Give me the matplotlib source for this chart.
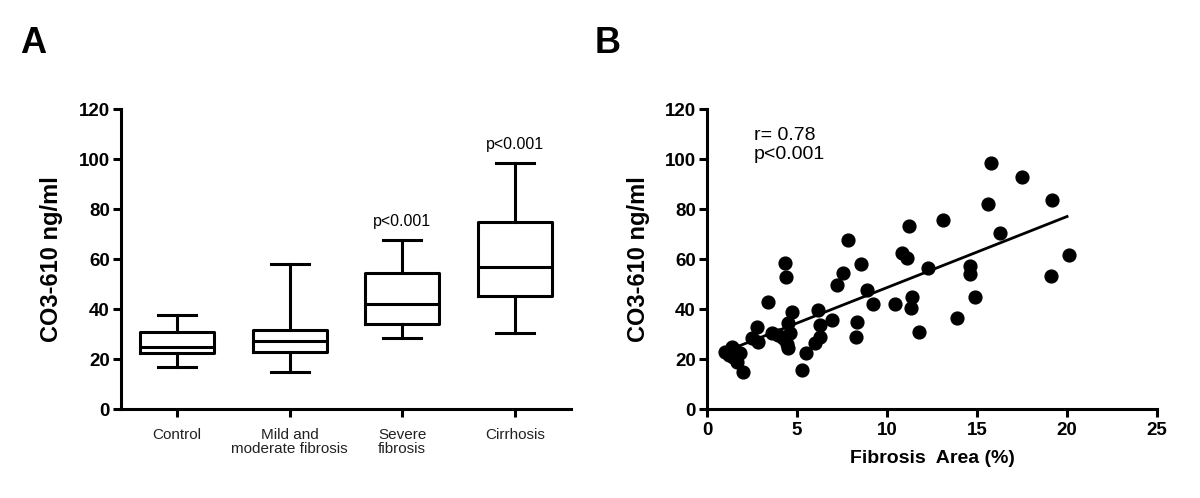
import numpy as np
import matplotlib.pyplot as plt

plt.rcParams['font.family'] = 'Liberation Sans'
plt.rcParams['axes.linewidth'] = 2.2
plt.rcParams['xtick.major.width'] = 2.2
plt.rcParams['ytick.major.width'] = 2.2
plt.rcParams['xtick.major.size'] = 6
plt.rcParams['ytick.major.size'] = 6

# panel A: box plot summary values
groups = ['Control', 'Mild and\nmoderate fibrosis', 'Severe\nfibrosis', 'Cirrhosis']
whislo = [16.7, 15.0, 28.5, 30.4]
q1 = [22.5, 23.0, 34.0, 45.4]
med = [25.0, 27.4, 41.9, 56.9]
q3 = [31.0, 31.6, 54.4, 74.9]
whishi = [37.7, 58.2, 67.6, 98.3]
pvals = ['', '', 'p<0.001', 'p<0.001']

# panel B: fibrosis area (%) vs CO3-610 (ng/ml)
area = [1.0, 1.37, 1.46, 1.83, 2.02, 1.65, 1.2, 1.55, 2.48, 2.76, 2.85, 3.41, 3.59, 3.96,
        4.33, 4.39, 4.24, 4.52, 4.70, 4.52, 4.6, 4.45, 5.26, 5.5, 6.0, 6.19, 6.28, 6.28,
        6.93, 7.2, 7.57, 7.81, 8.31, 8.28, 8.54, 8.87, 9.24, 10.44, 10.81, 11.13, 11.24,
        11.37, 11.32, 11.8, 12.3, 13.13, 15.78, 17.52, 15.63, 19.18, 16.28, 20.1, 14.61,
        14.61, 19.11, 14.89, 13.87]
co3 = [22.9, 24.9, 20.9, 22.3, 14.9, 19.0, 21.5, 23.5, 28.3, 32.9, 26.9, 42.9, 30.3, 29.6,
       58.3, 52.7, 28.3, 24.3, 38.9, 34.3, 30.5, 26.0, 15.6, 22.3, 26.3, 39.6, 28.9, 33.6,
       35.6, 49.6, 54.5, 67.6, 34.9, 28.7, 58.0, 47.6, 41.9, 42.0, 62.3, 60.3, 73.2,
       44.9, 40.3, 30.7, 56.3, 75.6, 98.3, 92.7, 82.0, 83.6, 70.5, 61.6, 57.3,
       53.9, 53.2, 44.9, 36.3]
fit_x = [1.0, 20.0]
fit_y = [23.0, 77.0]

fig = plt.figure(figsize=(12, 4.98), dpi=100)
axA = fig.add_axes([0.1008, 0.1787, 0.3750, 0.6024])
axB = fig.add_axes([0.5892, 0.1787, 0.3750, 0.6024])

stats = []
for i in range(len(groups)):
    stats.append(dict(whislo=whislo[i], q1=q1[i], med=med[i], q3=q3[i], whishi=whishi[i]))
pos = np.arange(1, len(groups) + 1)
lp = dict(color='black', linewidth=2.2)
axA.bxp(stats, positions=pos, widths=0.66, showfliers=False, boxprops=lp, medianprops=lp,
        whiskerprops=lp, capprops=lp, capwidths=0.34)
for i in range(len(groups)):
    if pvals[i]:
        axA.text(pos[i], whishi[i] + 4.5, pvals[i], ha='center', va='bottom', fontsize=11.5)
axA.set_xlim(0.5, 4.5)
axA.set_ylim(0, 120)
axA.set_yticks(range(0, 121, 20))
axA.set_xticks(pos)
axA.set_xticklabels(groups, fontsize=11, color='#222222', linespacing=1.0)
axA.set_ylabel('CO3-610 ng/ml', fontsize=17, fontweight='bold', labelpad=11)

axB.scatter(area, co3, s=85, color='black', zorder=3)
axB.plot(fit_x, fit_y, color='black', linewidth=2)
axB.set_xlim(0, 25)
axB.set_ylim(0, 120)
axB.set_yticks(range(0, 121, 20))
axB.set_xticks(range(0, 26, 5))
axB.set_xlabel('Fibrosis  Area (%)', fontsize=14, fontweight='bold', labelpad=8)
axB.set_ylabel('CO3-610 ng/ml', fontsize=17, fontweight='bold', labelpad=11)
axB.text(2.6, 113, 'r= 0.78\np<0.001', ha='left', va='top', fontsize=14, linespacing=1.2)

for ax in (axA, axB):
    ax.spines['top'].set_visible(False)
    ax.spines['right'].set_visible(False)
    for lab in ax.get_yticklabels():
        lab.set_fontsize(13.5)
        lab.set_fontweight('bold')
    ax.tick_params(axis='y', pad=2)
for lab in axB.get_xticklabels():
    lab.set_fontsize(13.5)
    lab.set_fontweight('bold')
axA.tick_params(axis='x', pad=8)

fig.text(0.0275, 0.912, 'A', fontsize=26, fontweight='bold', ha='center', va='center')
fig.text(0.506, 0.912, 'B', fontsize=26, fontweight='bold', ha='center', va='center')

plt.savefig('out.png', dpi=100)
